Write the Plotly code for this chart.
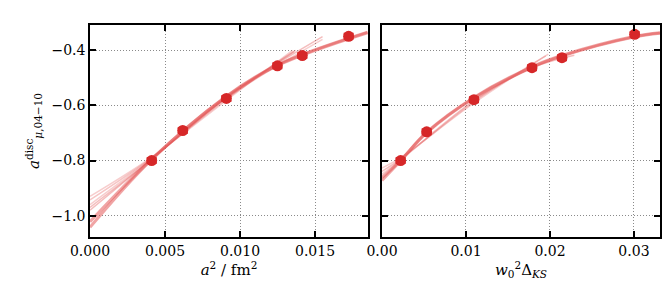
import plotly.graph_objects as go

# ---- data points (left: a^2 / fm^2, right: w0^2 Delta_KS) ----
left_x = [0.00411, 0.00618, 0.00909, 0.01249, 0.01415, 0.01724]
left_y = [-0.800, -0.691, -0.5745, -0.456, -0.419, -0.349]
right_x = [0.00222, 0.00532, 0.01095, 0.01786, 0.02143, 0.03008]
right_y = [-0.800, -0.6956, -0.579, -0.463, -0.4266, -0.342]
y_err = [0.009, 0.009, 0.009, 0.009, 0.009, 0.009]
x_err = [0.0002, 0.0002, 0.0002, 0.0002, 0.0002, 0.0002]

# ---- fit curves (points along each curve) ----
left_fits = [
    ([0.0, 0.004, 0.009, 0.0135], [-0.930, -0.792, -0.585, -0.400], 0.30, 1.5),
    ([0.0, 0.004, 0.009, 0.0136], [-0.943, -0.795, -0.580, -0.405], 0.35, 1.5),
    ([0.0, 0.004, 0.009, 0.0155], [-0.960, -0.797, -0.577, -0.360], 0.30, 1.5),
    ([0.0, 0.004, 0.009, 0.0137], [-0.970, -0.800, -0.575, -0.400], 0.40, 1.5),
    ([0.0, 0.004, 0.009, 0.0155], [-0.980, -0.800, -0.572, -0.350], 0.40, 1.5),
    ([0.0, 0.004, 0.009, 0.0125, 0.0185], [-1.022, -0.800, -0.572, -0.455, -0.336], 0.55, 3),
    ([0.0, 0.004, 0.009, 0.0125, 0.0185], [-1.042, -0.802, -0.570, -0.453, -0.334], 0.55, 3),
]
right_fits = [
    ([0.0, 0.0022, 0.011, 0.0198], [-0.827, -0.790, -0.590, -0.414], 0.30, 1.5),
    ([0.0, 0.0022, 0.011, 0.018, 0.0229], [-0.839, -0.795, -0.582, -0.462, -0.418], 0.40, 1.5),
    ([0.0, 0.0022, 0.011, 0.0195], [-0.850, -0.798, -0.585, -0.420], 0.30, 1.5),
    ([0.0, 0.0022, 0.0053, 0.011, 0.018, 0.0215, 0.030, 0.0331], [-0.862, -0.800, -0.700, -0.572, -0.460, -0.420, -0.352, -0.338], 0.55, 3),
    ([0.0, 0.0022, 0.0053, 0.011, 0.018, 0.0215, 0.030, 0.0331], [-0.872, -0.802, -0.698, -0.570, -0.458, -0.418, -0.350, -0.336], 0.55, 3),
]

left_ticks = [0.000, 0.005, 0.010, 0.015]
left_ticktext = ["0.000", "0.005", "0.010", "0.015"]
right_ticks = [0.00, 0.01, 0.02, 0.03]
right_ticktext = ["0.00", "0.01", "0.02", "0.03"]
y_ticks = [-1.0, -0.8, -0.6, -0.4]
y_ticktext = ["\u22121.0", "\u22120.8", "\u22120.6", "\u22120.4"]

RED = "#d62728"
FONT = "DejaVu Serif"

fig = go.Figure()

for xs, ys, a, w in left_fits:
    fig.add_trace(go.Scatter(x=xs, y=ys, mode="lines", line=dict(color=f"rgba(228,90,90,{a})", width=w, shape="spline"),
                             xaxis="x", yaxis="y", showlegend=False, hoverinfo="skip"))
for xs, ys, a, w in right_fits:
    fig.add_trace(go.Scatter(x=xs, y=ys, mode="lines", line=dict(color=f"rgba(228,90,90,{a})", width=w, shape="spline"),
                             xaxis="x2", yaxis="y2", showlegend=False, hoverinfo="skip"))

for xs, ys, xa, ya in [(left_x, left_y, "x", "y"), (right_x, right_y, "x2", "y2")]:
    fig.add_trace(go.Scatter(
        x=xs, y=ys, mode="markers", xaxis=xa, yaxis=ya, showlegend=False,
        marker=dict(color=RED, size=11),
        error_y=dict(type="data", array=y_err, color=RED, thickness=2, width=5),
        error_x=dict(type="data", array=x_err, color=RED, thickness=2, width=0),
    ))

axis_common = dict(
    showline=True, linecolor="black", linewidth=1.5, mirror="allticks",
    ticks="inside", ticklen=6, tickwidth=1.5, tickcolor="black",
    showgrid=True, gridcolor="#8a8a8a", griddash="1px,2px", gridwidth=1,
    zeroline=False, automargin=False, tickfont=dict(family=FONT, size=14, color="black"),
)

fig.update_layout(
    width=670, height=292,
    margin=dict(l=0, r=0, t=0, b=0, autoexpand=False),
    paper_bgcolor="white", plot_bgcolor="white",
    font=dict(family=FONT, color="black"),
    xaxis=dict(domain=[0.1224, 0.5373], range=[0, 0.01853], tickvals=left_ticks, ticktext=left_ticktext,
               title=dict(text="<i>a</i><sup>2</sup> / fm<sup>2</sup>", font=dict(family=FONT, size=15), standoff=6),
               anchor="y", **axis_common),
    yaxis=dict(domain=[0.2158, 0.9418], range=[-1.0775, -0.308], tickvals=y_ticks, ticktext=y_ticktext,
               title=dict(text="<i>a</i><sup>disc</sup><sub><i>\u03bc</i>,04\u221210</sub>", font=dict(family=FONT, size=15), standoff=8),
               anchor="x", **axis_common),
    xaxis2=dict(domain=[0.5582, 0.9731], range=[0, 0.0331], tickvals=right_ticks, ticktext=right_ticktext,
                title=dict(text="<i>w</i><sub>0</sub><sup>2</sup>\u0394<sub><i>KS</i></sub>", font=dict(family=FONT, size=15), standoff=6),
                anchor="y2", **axis_common),
    yaxis2=dict(domain=[0.2158, 0.9418], range=[-1.0775, -0.308], tickvals=y_ticks, showticklabels=False,
                anchor="x2", **axis_common),
)

fig.write_html("out.html")
